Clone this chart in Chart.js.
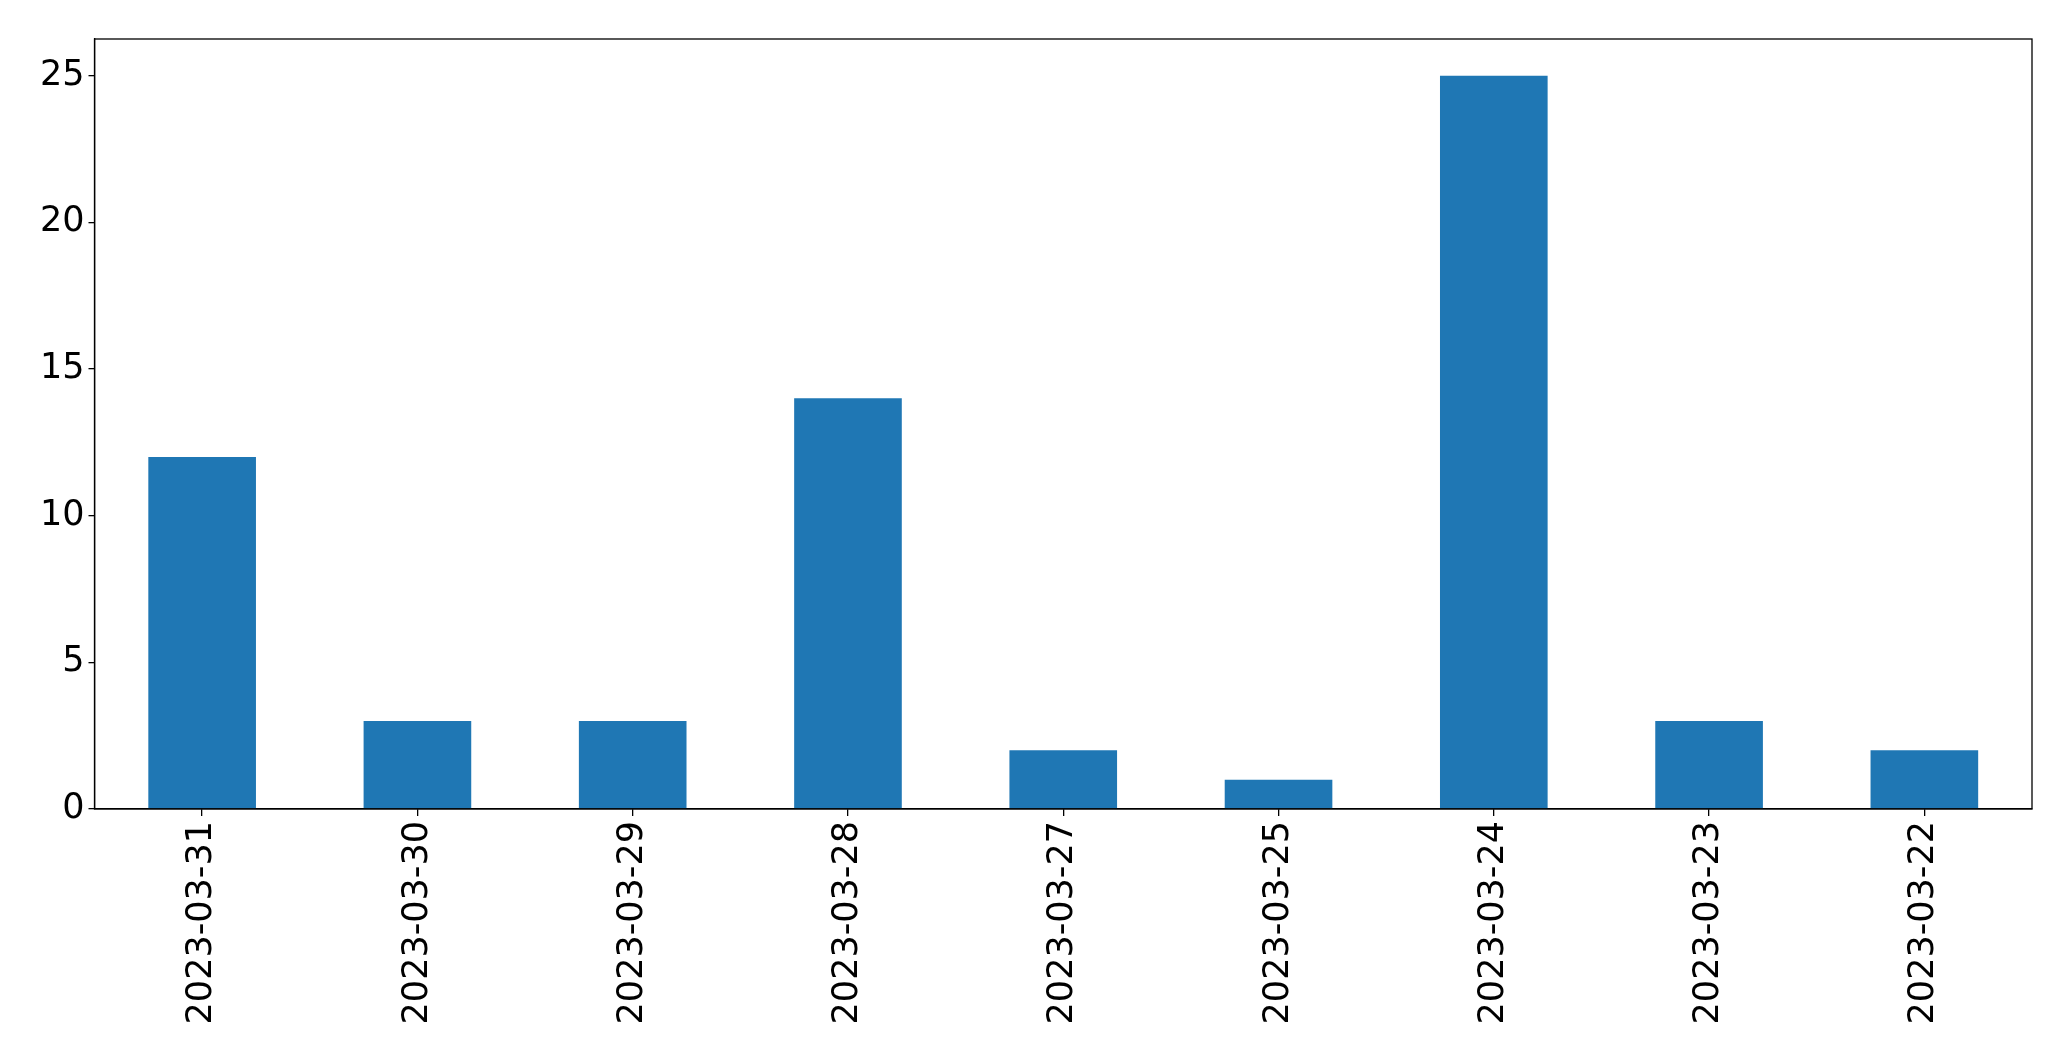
<!DOCTYPE html>
<html>
<head>
<meta charset="utf-8">
<script src="https://cdn.jsdelivr.net/npm/chart.js@4.4.0/dist/chart.umd.min.js"></script>
<style>
  html, body { margin:0; padding:0; background:#fff; }
  #wrap { width:2071px; height:1061px; }
</style>
</head>
<body>
<div id="wrap"><canvas id="c" width="2071" height="1061"></canvas></div>
<script>
const days   = ["2023-03-31","2023-03-30","2023-03-29","2023-03-28","2023-03-27","2023-03-25","2023-03-24","2023-03-23","2023-03-22"];
const counts = [12, 3, 3, 14, 2, 1, 25, 3, 2];
const yTicks = [0, 5, 10, 15, 20, 25];
const Y_MAX = 26.25;

const FONT = { family:"DejaVu Sans", size:35 };

// full frame round the plot area, like matplotlib's spines
const frame = {
  id:"frame",
  afterDraw(chart){
    const a = chart.chartArea, ctx = chart.ctx;
    ctx.save();
    ctx.strokeStyle = "#000"; ctx.lineWidth = 1.3;
    ctx.strokeRect(a.left, a.top, a.right - a.left, a.bottom - a.top);
    ctx.restore();
  }
};

new Chart(document.getElementById("c"), {
  type:"bar",
  data:{ labels:days, datasets:[{ data:counts, backgroundColor:"#1f77b4", barPercentage:0.5, categoryPercentage:1.0 }] },
  options:{
    responsive:false, animation:false, devicePixelRatio:1,
    layout:{ padding:{ top:39, right:39, left:0, bottom:0 } },
    plugins:{ legend:{ display:false }, tooltip:{ enabled:false } },
    scales:{
      x:{
        grid:{ display:true, offset:false, drawOnChartArea:false, drawTicks:true, tickLength:7, color:"#000", lineWidth:1.3 },
        border:{ display:true, color:"#000", width:1.3 },
        ticks:{ color:"#000", font:FONT, minRotation:90, maxRotation:90, padding:5, autoSkip:false },
        afterFit: s => { s.height = 252; }
      },
      y:{
        min:0, max:Y_MAX,
        grid:{ display:true, drawOnChartArea:false, drawTicks:true, tickLength:6, color:"#000", lineWidth:1.3 },
        border:{ display:true, color:"#000", width:1.3 },
        ticks:{ color:"#000", font:FONT, padding:4 },
        afterBuildTicks: s => { s.ticks = yTicks.map(v => ({ value:v })); },
        afterFit: s => { s.width = 94.5; }
      }
    }
  },
  plugins:[frame]
});
</script>
</body>
</html>
